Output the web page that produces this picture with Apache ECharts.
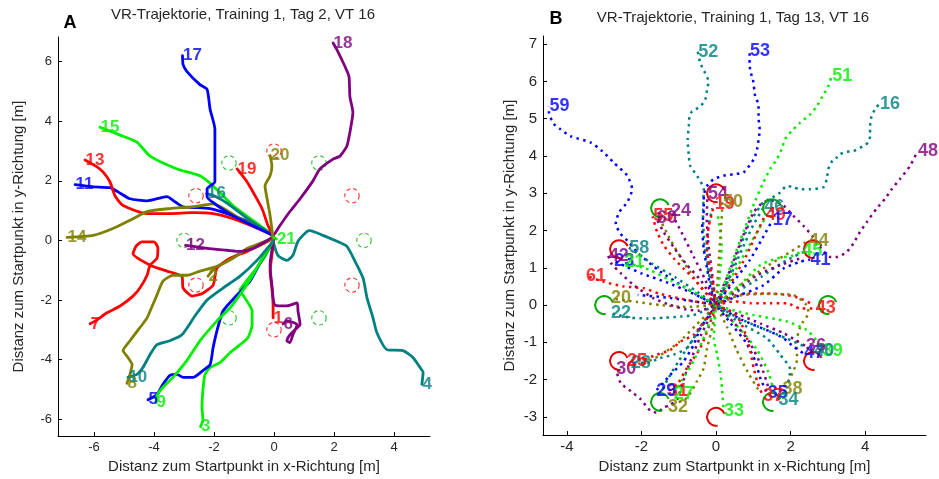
<!DOCTYPE html>
<html>
<head>
<meta charset="utf-8">
<script src="https://cdn.jsdelivr.net/npm/echarts@6/dist/echarts.min.js"></script>
<style>
html,body{margin:0;padding:0;background:#fff}
#chart{width:939px;height:479px}
</style>
</head>
<body>
<div id="chart"></div>
<script>
// ---- trial colour cycle (trial n uses entry (n-1) % 6) ----
const colorCycle = ['red', 'olive', 'green', 'teal', 'blue', 'purple'];

// ---- target circles (same layout in both sessions) ----
const targetX = [0, 1.5, 2.6, 3, 2.6, 1.5, 0, -1.5, -2.6, -3, -2.6, -1.5];
const targetY = [3, 2.6, 1.5, 0, -1.5, -2.6, -3, -2.6, -1.5, 0, 1.5, 2.6];
const targetKind = ['red', 'green', 'red', 'green', 'red', 'green', 'red', 'green', 'red', 'green', 'red', 'green'];

// ---- axis ticks ----
const ticksAX = [-6, -4, -2, 0, 2, 4];
const ticksAY = [-6, -4, -2, 0, 2, 4, 6];
const ticksBX = [-4, -2, 0, 2, 4];
const ticksBY = [-3, -2, -1, 0, 1, 2, 3, 4, 5, 6, 7];

// ---- Session A (Tag 2): trajectories, [x, y] in metres ----
const pathA1 = [[0,0.07],[-0.07,-0.5],[-0.13,-1.03],[-0.07,-1.6],[-0.03,-2.17],[-0.03,-2.6]];
const pathA2 = [[-0.03,0.07],[-0.47,-0.17],[-1.13,-0.43],[-1.7,-0.77],[-2.03,-1.0],[-2.2,-1.2]];
const pathA3 = [[-0.03,-0.03],[-0.3,-0.53],[-0.63,-1.0],[-0.97,-1.43],[-1.13,-1.67],[-0.97,-1.93],[-0.73,-2.37],[-0.73,-2.83],[-0.87,-3.27],[-1.13,-3.5],[-1.47,-3.77],[-1.8,-4.1],[-2.13,-4.27],[-2.3,-4.5],[-2.37,-5.03],[-2.4,-5.6],[-2.37,-6.03],[-2.45,-6.25]];
const pathA4 = [[-0.03,-0.03],[0.13,-0.5],[0.43,-0.67],[0.63,-0.5],[0.8,-0.03],[1.1,0.3],[1.2,0.33],[1.63,0.17],[2.1,-0.03],[2.43,-0.2],[2.7,-0.7],[2.97,-1.27],[3.1,-1.93],[3.3,-2.6],[3.43,-3.1],[3.77,-3.67],[4.3,-3.7],[4.63,-3.93],[4.87,-4.27],[4.97,-4.43],[4.93,-4.83]];
const pathA5 = [[-0.03,-0.03],[-0.47,-0.77],[-0.8,-1.37],[-1.23,-1.83],[-1.7,-2.37],[-1.9,-3.03],[-2.03,-3.6],[-2.13,-4.17],[-2.37,-4.37],[-2.7,-4.6],[-3.03,-4.6],[-3.23,-4.5],[-3.47,-4.53],[-3.7,-4.83],[-3.9,-5.17],[-4.2,-5.35]];
const pathA6 = [[0,0.07],[-0.13,-0.83],[-0.07,-1.5],[0.03,-2.17],[0.43,-2.2],[0.77,-2.1],[0.8,-2.37],[0.87,-2.83],[0.77,-2.93],[0.53,-3.17],[0.43,-3.37],[0.53,-3.43],[0.63,-3.17],[0.77,-2.83],[0.43,-2.7],[0.3,-2.8]];
const pathA7 = [[-0.03,0.07],[-0.37,-0.1],[-0.9,-0.37],[-1.47,-0.6],[-1.9,-0.93],[-2.03,-1.5],[-2.37,-1.77],[-2.73,-1.87],[-3.03,-1.6],[-3.07,-1.2],[-3.57,-1.03],[-4.13,-0.83],[-4.7,-0.45],[-4.6,-0.2],[-4.4,-0.05],[-4.0,-0.05],[-3.87,-0.25],[-3.9,-0.6],[-4.13,-0.83],[-4.23,-1.17],[-4.47,-1.6],[-4.7,-1.87],[-5.13,-2.2],[-5.57,-2.43],[-5.9,-2.67],[-6.13,-2.8]];
const pathA8 = [[-0.03,0.07],[-0.47,-0.1],[-0.9,-0.27],[-1.37,-0.6],[-1.9,-0.87],[-2.47,-1.03],[-2.9,-1.17],[-3.37,-1.17],[-3.7,-1.37],[-3.9,-1.83],[-4.13,-2.37],[-4.23,-2.6],[-4.47,-2.93],[-4.8,-3.37],[-5.03,-3.7],[-4.87,-3.93],[-4.73,-4.17],[-4.8,-4.5],[-4.9,-4.8]];
const pathA9 = [[-0.03,-0.03],[-0.4,-0.63],[-0.73,-1.2],[-1.03,-1.67],[-1.47,-2.27],[-1.9,-2.7],[-2.47,-3.37],[-2.9,-4.03],[-3.37,-4.6],[-3.7,-4.93],[-3.9,-5.2],[-3.93,-5.45]];
const pathA10 = [[-0.03,-0.03],[-0.57,-0.67],[-1.13,-1.2],[-1.7,-1.6],[-2.23,-2.0],[-2.63,-2.53],[-3.07,-3.17],[-3.47,-3.37],[-3.9,-3.5],[-4.13,-3.83],[-4.37,-4.27],[-4.57,-4.5],[-4.87,-4.6]];
const pathA11 = [[-0.03,0.17],[-0.47,0.47],[-1.37,0.83],[-2.13,1.07],[-3.03,1.13],[-3.3,1.3],[-3.57,1.47],[-4.23,1.33],[-4.8,1.4],[-5.2,1.63],[-5.47,1.77],[-6.03,1.8],[-6.63,1.87]];
const pathA12 = [[-0.03,0.13],[-0.23,0],[-0.7,-0.27],[-1.13,-0.37],[-1.57,-0.33],[-2.23,-0.27],[-2.95,-0.17]];
const pathA13 = [[-0.03,0.17],[-0.7,0.47],[-1.37,0.73],[-2.03,0.9],[-2.7,0.93],[-3.47,0.9],[-4.23,0.9],[-5.03,1.17],[-5.3,1.5],[-5.47,1.97],[-5.7,2.3],[-5.9,2.47],[-6.3,2.7]];
const pathA14 = [[-0.03,0.13],[-0.23,0.3],[-1.13,0.73],[-2.03,1.23],[-2.7,1.13],[-3.47,1.07],[-4.23,0.97],[-4.7,0.73],[-5.37,0.4],[-6.03,0.17],[-6.9,0.1]];
const pathA15 = [[-0.03,0.17],[-0.47,0.5],[-1.37,1.17],[-2.03,1.83],[-2.47,2.17],[-3.23,2.4],[-4.13,2.83],[-4.57,3.3],[-5.03,3.5],[-5.37,3.63],[-5.8,3.8]];
const pathA16 = [[-0.03,0.17],[-0.8,0.67],[-1.53,1.23],[-2.0,1.5],[-2.25,1.57]];
const pathA17 = [[-0.03,0.17],[-1.37,0.83],[-1.97,1.23],[-2.23,1.47],[-2.23,1.73],[-1.97,1.97],[-1.97,2.73],[-1.97,3.73],[-2.13,4.4],[-2.23,5.07],[-2.47,5.23],[-2.9,5.67],[-3.03,5.9],[-3.05,6.2]];
const pathA18 = [[0.03,0.23],[0.2,0.5],[0.53,0.97],[0.87,1.4],[1.3,2.0],[1.53,2.4],[1.97,2.73],[2.2,2.83],[2.43,3.17],[2.53,3.63],[2.63,4.3],[2.53,4.83],[2.5,5.5],[2.37,5.83],[2.1,6.4],[1.97,6.63]];
const pathA19 = [[-0.03,0.17],[-0.2,0.5],[-0.4,1.07],[-0.63,1.5],[-0.9,1.97],[-1.23,2.4]];
const pathA20 = [[-0.03,0.07],[-0.13,0.83],[-0.23,1.4],[-0.3,1.83],[-0.13,2.17],[-0.07,2.5],[-0.13,2.85]];
const pathA21 = [[0,0.1],[0.08,0.05]];

const trialsA = [1,2,3,4,5,6,7,8,9,10,11,12,13,14,15,16,17,18,19,20,21];
const pathsA = [pathA1,pathA2,pathA3,pathA4,pathA5,pathA6,pathA7,pathA8,pathA9,pathA10,pathA11,pathA12,pathA13,pathA14,pathA15,pathA16,pathA17,pathA18,pathA19,pathA20,pathA21];

// ---- Session B (Tag 13): labelled trajectories ----
const pathB59 = [[0,0],[-0.3,0.15],[-0.8,0.45],[-1.5,0.9],[-2.1,1.4],[-2.38,1.73],[-2.56,1.91],[-2.69,2.18],[-2.6,2.49],[-2.38,2.76],[-2.25,3.11],[-2.38,3.47],[-2.74,3.82],[-3.05,4.13],[-3.36,4.36],[-3.9,4.53],[-4.16,4.71],[-4.34,4.85],[-4.48,5.16],[-4.48,5.33]];
const pathB52 = [[0,0],[-0.15,0.7],[-0.3,1.5],[-0.35,2.4],[-0.33,3.11],[-0.51,3.47],[-0.69,3.73],[-0.73,4.0],[-0.76,4.45],[-0.73,4.8],[-0.71,5.07],[-0.64,5.2],[-0.42,5.33],[-0.29,5.51],[-0.24,5.78],[-0.2,6.0],[-0.29,6.22],[-0.42,6.49],[-0.49,6.8]];
const pathB53 = [[0,0],[-0.06,0.18],[-0.15,0.45],[-0.24,0.98],[-0.33,1.51],[-0.37,2.05],[-0.33,2.58],[-0.33,2.93],[-0.24,3.2],[-0.06,3.38],[0.2,3.47],[0.47,3.51],[0.74,3.56],[1.01,3.91],[1.1,4.18],[1.17,4.71],[1.14,5.02],[1.14,5.38],[1.05,5.6],[0.99,6.05],[0.92,6.27],[0.9,6.49],[0.9,6.82]];
const pathB51 = [[0,0],[0.2,0.5],[0.45,1.2],[0.75,2.0],[1.05,2.8],[1.27,3.29],[1.45,3.65],[1.63,3.91],[1.76,4.18],[1.85,4.45],[2.03,4.67],[2.25,4.89],[2.52,5.11],[2.7,5.33],[2.88,5.65],[3.01,5.87],[3.1,6.15]];
const pathB16 = [[0,0],[0.25,0.5],[0.55,1.3],[0.9,2.2],[1.27,2.76],[1.45,2.85],[1.72,3.02],[1.9,3.2],[2.07,3.16],[2.25,3.11],[2.52,3.11],[2.88,3.16],[2.97,3.38],[3.01,3.65],[3.14,3.91],[3.24,3.96],[3.32,4.05],[3.5,4.11],[3.68,4.13],[3.95,4.27],[4.08,4.36],[4.13,4.53],[4.13,4.8],[4.17,5.07],[4.26,5.25],[4.38,5.4]];
const pathB48 = [[0,0],[0.15,0.4],[0.4,1.0],[0.7,1.8],[1.01,2.49],[1.27,2.76],[1.54,2.8],[1.81,2.67],[2.07,2.4],[2.34,2.13],[2.61,1.82],[2.83,1.51],[3.06,1.29],[3.24,1.29],[3.5,1.42],[3.68,1.65],[3.86,1.96],[4.04,2.22],[4.3,2.58],[4.53,2.85],[4.71,3.11],[4.93,3.38],[5.2,3.73],[5.4,4.12]];
const pathB61 = [[0,0],[-0.7,0.12],[-1.5,0.3],[-1.94,0.45],[-2.47,0.5],[-3.0,0.62],[-3.5,0.79]];
const pathB20 = [[0,0],[-0.8,-0.05],[-1.5,0.0],[-2.1,0.08],[-2.55,0.14],[-2.83,0.18]];
const pathB22 = [[0,0],[-0.6,-0.27],[-0.95,-0.31],[-1.4,-0.34],[-1.84,-0.36],[-2.29,-0.34],[-2.83,-0.22]];
const pathB58 = [[0,0],[-0.5,0.35],[-1.1,0.75],[-1.7,1.1],[-2.05,1.35],[-2.34,1.54]];
const pathB23 = [[0,0],[-0.6,0.3],[-1.3,0.6],[-2.0,0.85],[-2.45,1.05],[-2.74,1.19]];
const pathB42 = [[0,0],[-0.45,-0.15],[-0.8,-0.12],[-1.22,0.0],[-1.67,0.18],[-2.2,0.53],[-2.55,0.85],[-2.8,1.1],[-2.89,1.32]];
const pathB21 = [[0,0],[-0.6,0.35],[-1.2,0.65],[-1.8,0.95],[-2.47,1.16]];
const pathB55 = [[0,0],[-0.6,0.71],[-0.87,0.98],[-1.13,1.25],[-1.4,1.6],[-1.58,1.96],[-1.7,2.38]];
const pathB60 = [[0,0],[-0.4,0.65],[-0.8,1.1],[-1.1,1.5],[-1.4,1.95],[-1.6,2.33]];
const pathB24 = [[0,0],[-0.3,0.7],[-0.6,1.3],[-0.9,1.9],[-1.22,2.52]];
const pathB54 = [[0,0],[-0.1,0.8],[-0.2,1.6],[-0.25,2.3],[-0.23,2.97]];
const pathB19 = [[0,0],[-0.1,0.7],[-0.24,1.5],[-0.2,2.1],[-0.1,2.5],[-0.05,2.72]];
const pathB50 = [[0,0],[0.05,0.8],[0.1,1.6],[0.15,2.3],[0.17,2.76]];
const pathB46 = [[0,0],[0.35,0.7],[0.7,1.5],[1.0,2.15],[1.28,2.63]];
const pathB49 = [[0,0],[0.4,0.6],[0.8,1.3],[1.1,1.95],[1.32,2.42]];
const pathB17 = [[0,0],[0.45,0.6],[0.9,1.2],[1.25,1.8],[1.51,2.28]];
const pathB44 = [[0,0],[0.6,0.5],[1.3,1.0],[1.95,1.4],[2.47,1.73]];
const pathB45 = [[0,0],[0.6,0.5],[1.18,1.07],[1.63,1.25],[2.07,1.33],[2.3,1.45]];
const pathB41 = [[0,0],[0.6,0.25],[1.27,0.53],[1.81,0.98],[2.25,1.16],[2.52,1.22]];
const pathB43 = [[0,0],[0.5,0.1],[0.92,0.05],[1.45,0.05],[1.9,0.05],[2.25,-0.09],[2.66,-0.09]];
const pathB38 = [[0,0],[0.6,0.25],[1.3,0.3],[2.07,0.27],[2.43,0],[2.48,-0.22],[2.34,-0.44],[2.21,-0.71],[2.17,-1.07],[2.17,-1.47],[2.07,-1.78],[1.94,-2.04],[1.77,-2.25]];
const pathB39 = [[0,0],[0.5,-0.15],[1.01,-0.27],[1.9,-0.44],[2.43,-0.67],[2.65,-0.89],[2.8,-1.1],[2.85,-1.24]];
const pathB47 = [[0,0],[0.7,-0.4],[1.45,-0.71],[1.81,-0.89],[2.07,-1.11],[2.35,-1.3]];
const pathB36 = [[0,0],[0.6,-0.25],[1.2,-0.5],[1.8,-0.75],[2.15,-0.95],[2.4,-1.1]];
const pathB40 = [[0,0],[0.6,-0.35],[1.3,-0.65],[1.9,-0.9],[2.35,-1.1],[2.62,-1.24]];
const pathB35 = [[0,0],[0.4,-0.5],[0.8,-1.0],[1.05,-1.5],[1.2,-2.0],[1.37,-2.35]];
const pathB34 = [[0,0],[0.6,-0.45],[1.36,-0.89],[1.72,-1.33],[1.99,-1.73],[1.9,-2.2],[1.66,-2.55]];
const pathB37 = [[0,0],[0.45,-0.2],[0.65,-0.44],[0.83,-0.89],[0.92,-1.24],[1.01,-1.69],[1.1,-2.04],[1.25,-2.43]];
const pathB33 = [[0,0],[-0.06,-0.89],[0.03,-1.33],[0.11,-1.78],[0.16,-2.22],[0.2,-2.84]];
const pathB32 = [[0,0],[-0.1,-0.6],[-0.24,-1.15],[-0.33,-1.69],[-0.51,-2.04],[-0.78,-2.49],[-1.3,-2.73]];
const pathB31 = [[0,0],[-0.2,-0.6],[-0.42,-1.15],[-0.78,-1.69],[-1.04,-2.13],[-1.3,-2.31]];
const pathB29 = [[0,0],[-0.2,-0.3],[-0.42,-0.62],[-0.6,-1.07],[-0.87,-1.51],[-1.22,-1.87],[-1.62,-2.31]];
const pathB30 = [[0,0],[-0.4,-0.8],[-0.8,-1.8],[-1.04,-2.53],[-1.22,-2.67],[-1.4,-2.75],[-1.58,-2.89],[-1.76,-2.84],[-2.02,-2.53],[-2.29,-2.31],[-2.56,-2.09],[-2.69,-1.71]];
const pathB28 = [[0,0],[-0.4,-0.55],[-0.78,-1.15],[-1.13,-1.33],[-1.49,-1.42],[-1.84,-1.55],[-2.3,-1.55]];
const pathB25 = [[0,0],[-0.6,-0.8],[-0.95,-0.98],[-1.22,-1.2],[-1.58,-1.33],[-1.98,-1.47],[-2.4,-1.5]];
const pathB27 = [[0,0],[-0.3,-0.8],[-0.6,-1.5],[-0.9,-2.0],[-1.15,-2.4]];

const trialsB = [59,52,53,51,16,48,61,20,22,58,23,42,21,55,60,24,54,19,50,46,49,17,44,45,41,43,38,39,47,36,40,35,34,37,33,32,31,29,30,28,25,27];
const pathsB = [pathB59,pathB52,pathB53,pathB51,pathB16,pathB48,pathB61,pathB20,pathB22,pathB58,pathB23,pathB42,pathB21,pathB55,pathB60,pathB24,pathB54,pathB19,pathB50,pathB46,pathB49,pathB17,pathB44,pathB45,pathB41,pathB43,pathB38,pathB39,pathB47,pathB36,pathB40,pathB35,pathB34,pathB37,pathB33,pathB32,pathB31,pathB29,pathB30,pathB28,pathB25,pathB27];

// ---- Session B: further trajectories whose labels are covered ----
const extraB1 = [[0,0],[-0.5,0.6],[-0.9,1.2],[-1.25,1.8],[-1.5,2.3]];
const extraB2 = [[0,0],[0.1,0.8],[0.15,1.6],[0.05,2.4]];
const extraB3 = [[0,0],[0.3,-0.6],[0.55,-1.2],[0.85,-1.8],[1.15,-2.3]];
const extraB4 = [[0,0],[-0.2,0.9],[-0.25,1.8],[-0.1,2.6]];
const extraB5 = [[0,0],[0.5,0.9],[0.95,1.7],[1.3,2.3]];
const extraB6 = [[0,0],[0.55,0.35],[1.2,0.75],[1.8,1.15],[2.4,1.45]];
const extraB7 = [[0,0],[-0.5,-0.5],[-1.0,-1.0],[-1.5,-1.35],[-2.0,-1.6]];
const extraB8 = [[0,0],[0.6,-0.6],[1.1,-1.2],[1.4,-1.8],[1.55,-2.3]];
const extraB9 = [[0,0],[0.5,0.25],[0.92,0.31],[1.45,0.31],[1.9,0.27],[2.25,0.18],[2.52,0.05]];
const extraB10 = [[0,0],[0.55,0.4],[1.1,0.8],[1.72,1.07],[2.25,1.25]];
const extraB11 = [[0,0],[-0.6,0.1],[-1.3,0.2],[-2.1,0.27]];
const extraB12 = [[0,0],[-0.6,-0.9],[-1.0,-1.5],[-1.3,-2.0],[-1.5,-2.4]];
const extraB13 = [[0,0],[0.5,-0.5],[0.9,-1.0],[1.2,-1.6],[1.4,-2.2]];
const extraPathsB = [extraB1,extraB2,extraB3,extraB4,extraB5,extraB6,extraB7,extraB8,extraB9,extraB10,extraB11,extraB12,extraB13];
const extraColorsB = ['olive','green','olive','teal','green','teal','olive','green','red','purple','blue','teal','purple'];

// ---- styling ----
const PALETTE = { red: '#ff0000', olive: '#808000', green: '#00ee00', teal: '#008080', blue: '#0000ff', purple: '#800080' };
const CIRCLE_A = { red: '#ff3030', green: '#30c030' };
const CIRCLE_B = { red: '#e00000', green: '#00a800' };
const FONT = 'Arial, "Liberation Sans", Helvetica, sans-serif';
const TXT = '#262626';
const trialColor = n => PALETTE[colorCycle[(n - 1) % 6]];
const lastPoint = p => p[p.length - 1];

// solid, slightly fuzzy track for session A; '+'-like dotted track for session B
function trackSeries(points, color, idx, dotted, k) {
  return {
    type: 'line', xAxisIndex: idx, yAxisIndex: idx, data: points,
    symbol: 'none', showSymbol: false, smooth: 0.2, silent: true, z: 2,
    lineStyle: dotted
      ? { color: color, width: 2.5, type: [2.5, 4.3], dashOffset: (k * 1.7) % 6.8, cap: 'butt' }
      : { color: color, width: 2.8, cap: 'round', join: 'round' }
  };
}

function labelSeries(trials, paths, idx, size) {
  return {
    type: 'scatter', xAxisIndex: idx, yAxisIndex: idx, symbolSize: 1, silent: true, z: 6,
    itemStyle: { color: 'rgba(0,0,0,0)' },
    label: { show: true, position: 'right', distance: 0, fontFamily: FONT, fontSize: size, fontWeight: 'bold',
             formatter: p => p.name },
    data: trials.map((n, k) => ({ name: String(n), value: lastPoint(paths[k]), label: { color: trialColor(n) } }))
  };
}

function targetSeries(idx, dashed) {
  const data = targetX.map((x, k) => [x, targetY[k], k]);
  return {
    type: 'custom', xAxisIndex: idx, yAxisIndex: idx, silent: true, z: dashed ? 1 : 4, data: data,
    renderItem: (params, api) => {
      const c = api.coord([api.value(0), api.value(1)]);
      const kind = targetKind[api.value(2)];
      const r = api.size([0.24, 0])[0];
      if (dashed) {
        return { type: 'circle', shape: { cx: c[0], cy: c[1], r: r },
                 style: { fill: 'none', stroke: CIRCLE_A[kind], lineWidth: 1.1, lineDash: [4, 3] } };
      }
      return { type: 'arc',
               shape: { cx: c[0], cy: c[1], r: r, startAngle: -20 * Math.PI / 180, endAngle: 80 * Math.PI / 180, clockwise: false },
               style: { fill: 'none', stroke: CIRCLE_B[kind], lineWidth: 2 } };
    }
  };
}

function valueAxis(idx, min, max, ticks, isX, fontSize, margin, nameGap) {
  return {
    gridIndex: idx, type: 'value', min: min, max: max,
    name: isX ? 'Distanz zum Startpunkt in x-Richtung [m]' : 'Distanz zum Startpunkt in y-Richtung [m]',
    nameLocation: 'middle', nameGap: nameGap,
    nameTextStyle: { fontFamily: FONT, fontSize: 15, color: TXT },
    splitLine: { show: false },
    axisLine: { onZero: false, lineStyle: { color: '#000', width: 1 } },
    axisTick: { inside: true, length: 4, customValues: ticks, lineStyle: { color: '#000' } },
    axisLabel: { customValues: ticks, margin: margin, fontFamily: FONT, fontSize: fontSize, color: TXT }
  };
}

const series = [];
series.push(targetSeries(0, true));
pathsA.forEach((p, k) => series.push(trackSeries(p, trialColor(trialsA[k]), 0, false, k)));
series.push(labelSeries(trialsA, pathsA, 0, 17));

extraPathsB.forEach((p, k) => series.push(trackSeries(p, PALETTE[extraColorsB[k]], 1, true, k)));
pathsB.forEach((p, k) => series.push(trackSeries(p, trialColor(trialsB[k]), 1, true, k + 3)));
series.push(targetSeries(1, false));
series.push(labelSeries(trialsB, pathsB, 1, 18));

const chart = echarts.init(document.getElementById('chart'), null, { renderer: 'canvas' });
chart.setOption({
  animation: false,
  backgroundColor: '#fff',
  grid: [
    { left: 58, top: 37, width: 372, height: 402 },
    { left: 543, top: 36, width: 383, height: 402 }
  ],
  xAxis: [
    valueAxis(0, -7.2, 5.2, ticksAX, true, 13, 5, 21),
    valueAxis(1, -4.64, 5.63, ticksBX, true, 15, 4, 20)
  ],
  yAxis: [
    valueAxis(0, -6.57, 6.83, ticksAY, false, 13, 6, 32),
    valueAxis(1, -3.49, 7.22, ticksBY, false, 15, 6, 26)
  ],
  graphic: [
    { type: 'text', x: 243, y: 15, silent: true,
      style: { text: 'VR-Trajektorie, Training 1, Tag 2, VT 16', align: 'center', verticalAlign: 'middle', fontFamily: FONT, fontSize: 15, fill: TXT } },
    { type: 'text', x: 733, y: 18, silent: true,
      style: { text: 'VR-Trajektorie, Training 1, Tag 13, VT 16', align: 'center', verticalAlign: 'middle', fontFamily: FONT, fontSize: 15, fill: TXT } },
    { type: 'text', x: 70, y: 23, silent: true,
      style: { text: 'A', align: 'center', verticalAlign: 'middle', fontFamily: FONT, fontSize: 18, fontWeight: 'bold', fill: '#000' } },
    { type: 'text', x: 556, y: 19, silent: true,
      style: { text: 'B', align: 'center', verticalAlign: 'middle', fontFamily: FONT, fontSize: 18, fontWeight: 'bold', fill: '#000' } }
  ],
  series: series
});
</script>
</body>
</html>
